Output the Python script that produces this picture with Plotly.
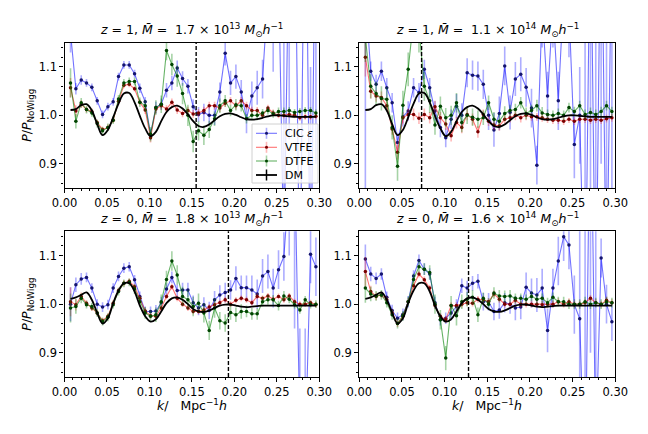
import plotly.graph_objects as go

# ---------------- data ----------------
k = [0.0071, 0.0134, 0.0197, 0.0259, 0.0322, 0.0385, 0.0448, 0.0511, 0.0573, 0.0636,
     0.0699, 0.0762, 0.0825, 0.0887, 0.0950, 0.1013, 0.1076, 0.1139, 0.1201, 0.1264,
     0.1327, 0.1390, 0.1453, 0.1515, 0.1578, 0.1641, 0.1704, 0.1767, 0.1829, 0.1892,
     0.1955, 0.2018, 0.2081, 0.2143, 0.2206, 0.2269, 0.2332, 0.2395, 0.2457, 0.2520,
     0.2583, 0.2646, 0.2709, 0.2771, 0.2834, 0.2897, 0.2960]

# top-left: z=1, M=1.7e13
cic_tl = [1.170, 1.055, 1.073, 1.067, 1.058, 1.030, 1.002, 1.018, 1.028, 1.080,
          1.104, 1.104, 1.086, 1.056, 1.028, 0.961, 1.016, 1.023, 1.052, 1.067,
          1.098, 1.076, 1.060, 1.018, 1.002, 1.006, 1.000, 1.000, 1.048, 1.128,
          1.067, 1.080, 1.048, 0.993, 1.040, 1.057, 1.075, 1.250, 1.180, 1.300,
          0.700, 1.400, 1.500, 0.600, 1.600, 0.600, 1.500]
cic_tl_err = [0.040, 0.012, 0.010, 0.008, 0.008, 0.008, 0.008, 0.008, 0.008, 0.008,
              0.008, 0.008, 0.008, 0.010, 0.010, 0.012, 0.012, 0.012, 0.015, 0.015,
              0.015, 0.015, 0.015, 0.015, 0.015, 0.018, 0.018, 0.020, 0.020, 0.025,
              0.025, 0.025, 0.025, 0.030, 0.030, 0.035, 0.040, 0.060, 0.090, 0.100,
              0.500, 0.450, 0.300, 0.200, 0.200, 0.500, 0.600]
vtfe_tl = [1.057, 1.009, 1.023, 1.012, 1.008, 0.985, 0.971, 0.975, 0.990, 1.029,
           1.062, 1.064, 1.055, 1.027, 1.011, 0.954, 1.013, 1.020, 1.013, 1.027,
           1.011, 1.004, 1.010, 1.003, 1.005, 1.010, 1.020, 1.020, 1.015, 1.025,
           1.030, 1.020, 1.030, 1.020, 1.010, 1.010, 1.000, 1.015, 1.005, 1.000,
           1.000, 1.002, 1.000, 0.995, 0.997, 0.997, 0.998]
vtfe_tl_err = [0.020, 0.012, 0.008, 0.006, 0.006, 0.006, 0.006, 0.006, 0.006, 0.006,
               0.006, 0.006, 0.006, 0.006, 0.008, 0.010, 0.008, 0.008, 0.008, 0.008,
               0.008, 0.008, 0.008, 0.008, 0.008, 0.008, 0.008, 0.008, 0.008, 0.008,
               0.008, 0.008, 0.008, 0.008, 0.008, 0.007, 0.007, 0.007, 0.007, 0.006,
               0.006, 0.006, 0.006, 0.006, 0.006, 0.006, 0.006]
dtfe_tl = [1.067, 0.988, 1.026, 1.012, 1.005, 0.983, 0.968, 0.975, 0.990, 1.034,
           1.067, 1.070, 1.070, 1.027, 1.020, 0.961, 1.016, 1.023, 1.134, 1.105,
           1.081, 1.045, 1.000, 0.946, 0.968, 0.959, 0.971, 0.993, 1.020, 1.030,
           1.010, 1.022, 1.020, 0.993, 1.000, 1.000, 1.005, 1.010, 1.003, 1.008,
           1.008, 1.010, 1.006, 1.008, 1.010, 1.010, 1.005]
dtfe_tl_err = [0.030, 0.015, 0.010, 0.008, 0.008, 0.008, 0.008, 0.008, 0.008, 0.008,
               0.008, 0.008, 0.008, 0.010, 0.012, 0.015, 0.015, 0.018, 0.020, 0.022,
               0.022, 0.022, 0.022, 0.022, 0.020, 0.020, 0.018, 0.015, 0.015, 0.012,
               0.012, 0.012, 0.012, 0.010, 0.010, 0.010, 0.008, 0.008, 0.008, 0.008,
               0.008, 0.007, 0.007, 0.007, 0.007, 0.007, 0.007]

# top-right: z=1, M=1.1e14
cic_tr = [1.250, 1.091, 1.064, 1.091, 1.057, 1.026, 0.944, 0.997, 1.009, 1.057,
          1.047, 1.095, 1.057, 1.009, 0.975, 0.954, 0.992, 1.019, 1.000, 1.088,
          1.083, 1.081, 1.064, 1.000, 0.970, 1.004, 1.102, 1.006, 1.075, 1.085,
          1.058, 1.015, 0.897, 1.220, 1.040, 1.220, 1.030, 1.250, 1.220, 0.940,
          1.000, 0.550, 1.450, 0.550, 1.500, 0.600, 1.400]
cic_tr_err = [0.450, 0.020, 0.020, 0.020, 0.020, 0.020, 0.020, 0.020, 0.020, 0.020,
              0.020, 0.020, 0.020, 0.020, 0.020, 0.020, 0.020, 0.025, 0.025, 0.030,
              0.030, 0.030, 0.030, 0.030, 0.035, 0.035, 0.040, 0.035, 0.035, 0.035,
              0.040, 0.040, 0.040, 0.080, 0.050, 0.080, 0.060, 0.100, 0.100, 0.070,
              0.100, 0.600, 0.600, 0.600, 0.600, 0.600, 0.600]
vtfe_tr = [1.120, 1.050, 1.040, 1.037, 1.020, 0.972, 0.924, 0.995, 1.002, 1.002,
           0.994, 1.002, 0.995, 1.018, 0.995, 0.982, 0.958, 0.985, 0.975, 1.002,
           0.992, 0.966, 1.002, 0.988, 0.980, 0.978, 0.992, 0.995, 1.000, 0.995,
           1.000, 0.997, 0.997, 0.995, 0.992, 0.990, 0.990, 0.988, 0.992, 0.988,
           0.992, 0.992, 0.990, 0.992, 0.990, 0.993, 0.995]
vtfe_tr_err = [0.040, 0.015, 0.012, 0.012, 0.012, 0.012, 0.015, 0.012, 0.012, 0.012,
               0.012, 0.012, 0.012, 0.012, 0.012, 0.012, 0.012, 0.012, 0.012, 0.012,
               0.012, 0.012, 0.010, 0.010, 0.010, 0.010, 0.010, 0.010, 0.010, 0.010,
               0.010, 0.008, 0.008, 0.008, 0.008, 0.008, 0.008, 0.008, 0.008, 0.008,
               0.008, 0.008, 0.008, 0.008, 0.008, 0.008, 0.008]
dtfe_tr = [1.160, 1.060, 1.045, 1.035, 1.033, 0.975, 0.895, 1.021, 1.095, 1.200,
           1.180, 1.060, 1.030, 0.980, 1.019, 0.995, 1.000, 1.026, 0.985, 1.000,
           0.996, 0.992, 0.995, 1.026, 0.992, 0.988, 1.004, 1.010, 1.012, 1.026,
           1.004, 1.010, 1.020, 1.005, 1.002, 1.000, 1.004, 1.000, 1.016, 1.008,
           1.020, 1.002, 1.006, 1.002, 1.008, 1.020, 1.008]
dtfe_tr_err = [0.050, 0.025, 0.025, 0.025, 0.025, 0.025, 0.030, 0.030, 0.035, 0.050,
               0.050, 0.030, 0.025, 0.020, 0.020, 0.020, 0.020, 0.020, 0.020, 0.018,
               0.018, 0.018, 0.015, 0.015, 0.015, 0.015, 0.015, 0.012, 0.012, 0.012,
               0.012, 0.012, 0.012, 0.012, 0.010, 0.010, 0.010, 0.010, 0.010, 0.010,
               0.010, 0.010, 0.010, 0.010, 0.010, 0.010, 0.010]

# bottom-left: z=0, M=1.8e13
cic_bl = [1.000, 1.040, 1.052, 1.055, 1.033, 1.000, 0.994, 0.999, 1.033, 1.057,
          1.074, 1.077, 1.050, 1.016, 0.985, 0.985, 0.986, 1.003, 1.031, 1.055,
          1.028, 1.029, 1.029, 1.003, 0.992, 0.999, 0.987, 1.009, 1.019, 1.024,
          1.029, 1.053, 1.034, 1.034, 1.029, 1.021, 1.058, 1.067, 1.033, 1.071,
          1.098, 1.250, 1.300, 0.750, 0.700, 1.103, 1.077]
cic_bl_err = [0.035, 0.015, 0.012, 0.010, 0.010, 0.010, 0.010, 0.010, 0.010, 0.010,
              0.010, 0.010, 0.010, 0.010, 0.010, 0.010, 0.012, 0.012, 0.012, 0.012,
              0.012, 0.015, 0.015, 0.015, 0.015, 0.015, 0.018, 0.018, 0.020, 0.020,
              0.020, 0.025, 0.025, 0.025, 0.030, 0.030, 0.035, 0.035, 0.040, 0.040,
              0.050, 0.150, 0.350, 0.200, 0.250, 0.060, 0.060]
vtfe_bl = [1.005, 0.999, 1.016, 1.002, 0.992, 0.982, 0.966, 0.975, 1.002, 1.028,
           1.043, 1.047, 1.036, 1.012, 0.986, 0.976, 0.975, 0.992, 1.016, 1.036,
           1.012, 1.000, 0.992, 0.985, 0.985, 0.988, 0.994, 0.999, 1.003, 1.009,
           1.000, 1.008, 1.012, 1.009, 1.003, 1.016, 1.012, 1.017, 1.010, 1.016,
           1.009, 1.017, 1.005, 1.000, 1.000, 1.003, 0.999]
vtfe_bl_err = [0.030, 0.012, 0.008, 0.006, 0.006, 0.006, 0.006, 0.006, 0.006, 0.006,
               0.006, 0.006, 0.006, 0.006, 0.006, 0.006, 0.006, 0.006, 0.006, 0.006,
               0.006, 0.006, 0.006, 0.006, 0.006, 0.006, 0.006, 0.006, 0.006, 0.006,
               0.006, 0.006, 0.006, 0.006, 0.006, 0.006, 0.006, 0.006, 0.006, 0.006,
               0.006, 0.006, 0.006, 0.006, 0.006, 0.006, 0.006]
dtfe_bl = [0.992, 0.995, 1.012, 0.999, 0.995, 0.982, 0.964, 0.973, 0.999, 1.026,
           1.043, 1.045, 1.031, 1.005, 0.982, 0.975, 0.978, 1.005, 1.051, 1.089,
           1.060, 1.016, 1.009, 0.995, 1.002, 0.982, 0.946, 0.992, 0.966, 0.961,
           0.983, 0.978, 0.985, 0.985, 0.980, 0.980, 1.005, 1.009, 1.009, 0.997,
           1.017, 1.010, 0.999, 0.988, 1.009, 0.999, 1.000]
dtfe_bl_err = [0.030, 0.015, 0.010, 0.008, 0.008, 0.008, 0.008, 0.008, 0.008, 0.008,
               0.008, 0.008, 0.010, 0.010, 0.012, 0.012, 0.015, 0.015, 0.018, 0.020,
               0.020, 0.020, 0.020, 0.020, 0.020, 0.020, 0.020, 0.020, 0.018, 0.018,
               0.015, 0.015, 0.015, 0.012, 0.012, 0.012, 0.010, 0.010, 0.010, 0.010,
               0.010, 0.008, 0.008, 0.008, 0.008, 0.008, 0.008]

# bottom-right: z=0, M=1.6e14
cic_br = [1.093, 1.062, 1.053, 1.062, 1.014, 0.987, 0.971, 0.979, 1.005, 1.058,
          1.090, 1.072, 1.062, 1.003, 0.968, 0.971, 0.982, 0.995, 1.038, 1.033,
          1.043, 1.047, 1.005, 1.005, 0.985, 0.988, 1.003, 1.000, 0.992, 0.994,
          1.035, 1.023, 1.019, 1.033, 0.946, 1.033, 1.089, 1.139, 1.122, 0.999,
          0.970, 0.600, 1.500, 0.700, 1.095, 1.000, 0.964]
cic_br_err = [0.030, 0.015, 0.012, 0.012, 0.012, 0.012, 0.012, 0.012, 0.012, 0.012,
              0.012, 0.012, 0.012, 0.012, 0.012, 0.012, 0.015, 0.015, 0.015, 0.015,
              0.015, 0.015, 0.018, 0.018, 0.018, 0.018, 0.020, 0.020, 0.025, 0.025,
              0.030, 0.030, 0.035, 0.040, 0.045, 0.040, 0.050, 0.050, 0.050, 0.060,
              0.200, 0.600, 0.600, 0.500, 0.040, 0.040, 0.040]
vtfe_br = [1.067, 1.026, 1.016, 1.019, 1.009, 0.982, 0.960, 0.975, 1.005, 1.038,
           1.062, 1.050, 1.033, 0.997, 0.975, 0.968, 0.997, 0.997, 1.000, 1.003,
           1.002, 1.010, 1.009, 1.005, 1.021, 1.010, 1.000, 1.000, 1.008, 1.000,
           1.000, 1.000, 1.000, 0.999, 1.000, 1.000, 1.005, 1.000, 1.005, 1.000,
           1.000, 1.003, 1.012, 1.003, 1.000, 1.008, 1.003]
vtfe_br_err = [0.030, 0.012, 0.008, 0.007, 0.007, 0.007, 0.007, 0.007, 0.007, 0.007,
               0.007, 0.007, 0.007, 0.007, 0.007, 0.007, 0.007, 0.007, 0.007, 0.007,
               0.007, 0.007, 0.007, 0.007, 0.007, 0.007, 0.007, 0.007, 0.007, 0.007,
               0.007, 0.007, 0.007, 0.007, 0.007, 0.007, 0.007, 0.007, 0.007, 0.007,
               0.007, 0.007, 0.007, 0.007, 0.007, 0.007, 0.007]
dtfe_br = [1.033, 1.021, 1.017, 1.019, 1.003, 0.978, 0.960, 0.976, 1.005, 1.051,
           1.077, 1.072, 1.065, 1.000, 0.968, 0.889, 0.997, 0.976, 1.005, 1.010,
           1.014, 0.978, 1.012, 1.000, 1.023, 1.017, 1.016, 1.017, 1.012, 1.012,
           1.010, 1.016, 1.010, 1.012, 1.003, 1.014, 1.005, 1.005, 1.000, 1.000,
           1.000, 1.005, 1.000, 1.003, 1.000, 1.005, 1.003]
dtfe_br_err = [0.030, 0.015, 0.010, 0.010, 0.010, 0.010, 0.010, 0.010, 0.010, 0.012,
               0.012, 0.012, 0.015, 0.020, 0.020, 0.025, 0.020, 0.020, 0.015, 0.015,
               0.015, 0.015, 0.012, 0.012, 0.012, 0.012, 0.012, 0.012, 0.010, 0.010,
               0.010, 0.010, 0.010, 0.010, 0.010, 0.010, 0.010, 0.010, 0.010, 0.010,
               0.010, 0.010, 0.010, 0.010, 0.010, 0.010, 0.010]

# dark-matter reference (no-wiggle ratio) for z=1 and z=0
dm_z1 = [1.011, 1.013, 1.021, 1.023, 1.010, 0.982, 0.959, 0.970, 0.996, 1.024,
         1.045, 1.046, 1.027, 0.999, 0.973, 0.957, 0.966, 0.988, 1.007, 1.017,
         1.020, 1.014, 1.002, 0.988, 0.978, 0.976, 0.981, 0.990, 0.998, 1.003,
         1.004, 1.001, 0.996, 0.992, 0.991, 0.992, 0.995, 0.998, 1.000, 1.000,
         0.999, 0.998, 0.997, 0.997, 0.997, 0.997, 0.997]
dm_z0 = [1.011, 1.014, 1.019, 1.024, 1.009, 0.982, 0.960, 0.971, 1.002, 1.028,
         1.043, 1.043, 1.026, 0.997, 0.975, 0.964, 0.969, 0.985, 1.002, 1.012,
         1.014, 1.009, 1.000, 0.990, 0.985, 0.984, 0.987, 0.992, 0.997, 0.999,
         0.999, 0.997, 0.995, 0.994, 0.995, 0.996, 0.997, 0.997, 0.997, 0.997,
         0.997, 0.997, 0.997, 0.997, 0.997, 0.997, 0.997]

k_cut = [0.155, 0.073, 0.193, 0.128]
z_vals = ["1", "1", "0", "0"]
mass_mant = ["1.7", "1.1", "1.8", "1.6"]
mass_exp = ["13", "14", "13", "14"]
x_ticks = [0.00, 0.05, 0.10, 0.15, 0.20, 0.25, 0.30]
y_ticks = [0.9, 1.0, 1.1]
legend_labels = ["CIC <i>ε</i>", "VTFE", "DTFE", "DM"]

for arr in [cic_tl, cic_tl_err, vtfe_tl, vtfe_tl_err, dtfe_tl, dtfe_tl_err,
            cic_tr, cic_tr_err, vtfe_tr, vtfe_tr_err, dtfe_tr, dtfe_tr_err,
            cic_bl, cic_bl_err, vtfe_bl, vtfe_bl_err, dtfe_bl, dtfe_bl_err,
            cic_br, cic_br_err, vtfe_br, vtfe_br_err, dtfe_br, dtfe_br_err,
            dm_z1, dm_z0]:
    assert len(arr) == len(k), len(arr)

panels = [
    (cic_tl, cic_tl_err, vtfe_tl, vtfe_tl_err, dtfe_tl, dtfe_tl_err, dm_z1),
    (cic_tr, cic_tr_err, vtfe_tr, vtfe_tr_err, dtfe_tr, dtfe_tr_err, dm_z1),
    (cic_bl, cic_bl_err, vtfe_bl, vtfe_bl_err, dtfe_bl, dtfe_bl_err, dm_z0),
    (cic_br, cic_br_err, vtfe_br, vtfe_br_err, dtfe_br, dtfe_br_err, dm_z0),
]

# ---------------- styling ----------------
FONT = "DejaVu Sans"
W, H = 648, 434
dom_x = [[64.5 / W, 319.3 / W], [359.3 / W, 615.3 / W],
         [64.5 / W, 319.3 / W], [359.3 / W, 615.3 / W]]
dom_y = [[1 - 188 / H, 1 - 42.7 / H], [1 - 188 / H, 1 - 42.7 / H],
         [1 - 377 / H, 1 - 231.3 / H], [1 - 377 / H, 1 - 231.3 / H]]

series_style = [
    ("rgba(20,20,255,0.6)", "rgba(20,20,255,0.35)", "#14146e"),
    ("rgba(255,20,20,0.6)", "rgba(255,20,20,0.3)", "#7a0000"),
    ("rgba(0,128,0,0.6)", "rgba(0,128,0,0.35)", "#004400"),
    ("black", "black", "black"),
]

fig = go.Figure()

for p, data in enumerate(panels):
    xa = "x" if p == 0 else f"x{p + 1}"
    ya = "y" if p == 0 else f"y{p + 1}"
    vals = [(data[0], data[1]), (data[2], data[3]), (data[4], data[5])]
    for s, (v, e) in enumerate(vals):
        lc, ec, mc = series_style[s]
        fig.add_trace(go.Scatter(
            x=k, y=v, mode="lines+markers", name=legend_labels[s],
            showlegend=False,
            line=dict(color=lc, width=1.1),
            marker=dict(color=mc, size=3.5),
            error_y=dict(type="data", array=e, visible=True,
                         color=ec, thickness=1.6, width=0),
            xaxis=xa, yaxis=ya, cliponaxis=True,
        ))
    fig.add_trace(go.Scatter(
        x=k, y=data[6], mode="lines", name="DM", showlegend=False,
        line=dict(color="black", width=1.8, shape="spline"),
        xaxis=xa, yaxis=ya,
    ))
    fig.add_shape(type="line", x0=k_cut[p], x1=k_cut[p], y0=0, y1=1,
                  xref=xa, yref=f"{ya} domain",
                  line=dict(color="black", width=1.4, dash="4px,2px"))

# legend box (top-left panel, lower right corner)
lx0, lx1 = 252 / W, 318 / W
ly0, ly1 = 1 - 183 / H, 1 - 124 / H
fig.add_shape(type="rect", xref="paper", yref="paper", x0=lx0, x1=lx1, y0=ly0, y1=ly1,
              fillcolor="rgba(255,255,255,0.8)", line=dict(color="#d0d0d0", width=1),
              layer="above")
entry_y = [133.3, 147.3, 161.0, 175.0]
annotations = []
for s in range(4):
    lc, ec, mc = series_style[s]
    yy = 1 - entry_y[s] / H
    fig.add_shape(type="line", xref="paper", yref="paper",
                  x0=256 / W, x1=277 / W, y0=yy, y1=yy, layer="above",
                  line=dict(color=lc if s < 3 else "black", width=1.1 if s < 3 else 1.8))
    fig.add_shape(type="line", xref="paper", yref="paper",
                  x0=266.5 / W, x1=266.5 / W, y0=yy - 5.5 / H, y1=yy + 5.5 / H,
                  layer="above",
                  line=dict(color=ec if s < 3 else "black", width=1.6 if s < 3 else 1.5))
    if s < 3:
        fig.add_shape(type="circle", xref="paper", yref="paper",
                      x0=265 / W, x1=268 / W, y0=yy - 1.5 / H, y1=yy + 1.5 / H,
                      layer="above", fillcolor=mc, line=dict(width=0))
    annotations.append(dict(text=legend_labels[s], x=283 / W, y=yy, xref="paper",
                            yref="paper", xanchor="left", yanchor="middle",
                            showarrow=False,
                            font=dict(family=FONT, size=11, color="black")))

axis_common = dict(showline=True, mirror=True, linecolor="black", linewidth=1.3,
                   ticks="outside", ticklen=4, tickwidth=1.2, tickcolor="black",
                   showgrid=False, zeroline=False, automargin=False,
                   tickfont=dict(family=FONT, size=11.5, color="black"))
layout = {}
for p in range(4):
    xn = "xaxis" if p == 0 else f"xaxis{p + 1}"
    yn = "yaxis" if p == 0 else f"yaxis{p + 1}"
    ya = "y" if p == 0 else f"y{p + 1}"
    xa = "x" if p == 0 else f"x{p + 1}"
    layout[xn] = dict(axis_common, domain=dom_x[p], range=[0, 0.3], anchor=ya,
                      tickvals=x_ticks, tickformat=".2f",
                      minor=dict(dtick=0.01, ticks="outside", ticklen=2,
                                 tickwidth=1, tickcolor="black"))
    layout[yn] = dict(axis_common, domain=dom_y[p], range=[0.85, 1.15], anchor=xa,
                      tickvals=y_ticks, tickformat=".1f",
                      minor=dict(dtick=0.02, tick0=0.9, ticks="outside", ticklen=2,
                                 tickwidth=1, tickcolor="black"))

for p in range(4):
    cx = (dom_x[p][0] + dom_x[p][1]) / 2
    title = (f"<i>z</i> = {z_vals[p]}, <i>M\u0304</i> = \u00a0{mass_mant[p]} × 10"
             f"<sup>{mass_exp[p]}</sup> <i>M</i><sub>⊙</sub><i>h</i><sup>−1</sup>")
    annotations.append(dict(text=title, x=cx, y=dom_y[p][1] + 1.5 / H,
                            xref="paper", yref="paper", xanchor="center",
                            yanchor="bottom", showarrow=False,
                            font=dict(family=FONT, size=12.5, color="black")))
for p in [0, 2]:
    cy = (dom_y[p][0] + dom_y[p][1]) / 2
    annotations.append(dict(text="<i>P</i>/<i>P</i><sub>NoWigg</sub>",
                            x=27.5 / W, y=cy, xref="paper", yref="paper",
                            xanchor="center", yanchor="middle", textangle=-90,
                            showarrow=False,
                            font=dict(family=FONT, size=12.5, color="black")))
for p in [2, 3]:
    cx = (dom_x[p][0] + dom_x[p][1]) / 2
    annotations.append(dict(text="<i>k</i>/\u00a0\u00a0\u00a0Mpc<sup>−1</sup><i>h</i>",
                            x=cx, y=1 - 405 / H, xref="paper", yref="paper",
                            xanchor="center", yanchor="middle", showarrow=False,
                            font=dict(family=FONT, size=12.5, color="black")))

fig.update_layout(
    width=W, height=H, margin=dict(l=0, r=0, t=0, b=0, autoexpand=False),
    paper_bgcolor="white", plot_bgcolor="white",
    font=dict(family=FONT, size=11, color="black"),
    annotations=annotations,
    showlegend=False,
    **layout,
)

fig.write_html("out.html", config={"displayModeBar": False},
               post_script="document.body.style.margin='0px';document.body.style.padding='0px';")
